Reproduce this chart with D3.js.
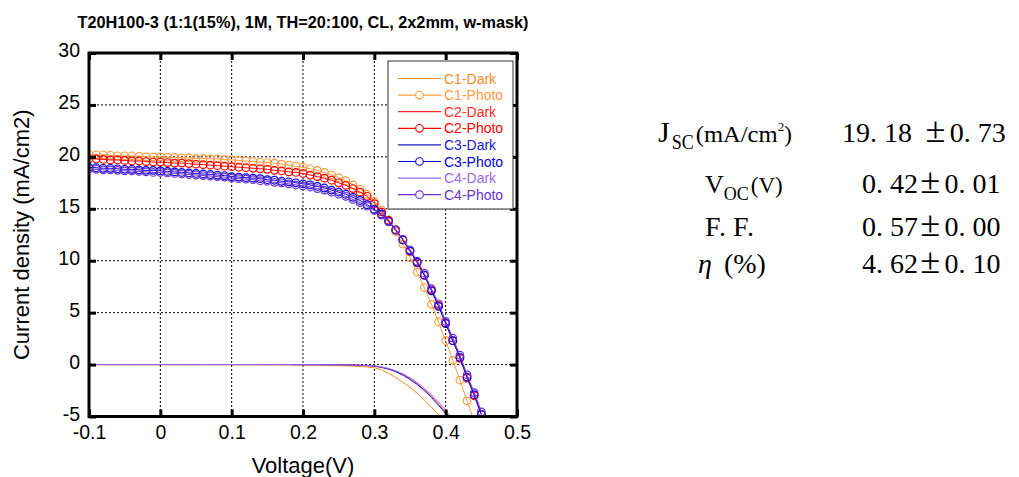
<!DOCTYPE html>
<html><head><meta charset="utf-8">
<script src="https://cdn.jsdelivr.net/npm/d3@7"></script>
<style>
html,body{margin:0;padding:0;background:#fff;}
svg{display:block;}
</style></head><body>
<svg id="chart" width="1019" height="477"></svg>
<script>
// ---- data ----
const chartTitle = "T20H100-3 (1:1(15%), 1M, TH=20:100, CL, 2x2mm, w-mask)";
const xLabel = "Voltage(V)";
const yLabel = "Current density (mA/cm2)";
const xTicks = [-0.1, 0, 0.1, 0.2, 0.3, 0.4, 0.5];
const yTicks = [-5, 0, 5, 10, 15, 20, 25, 30];

// illuminated sweeps: voltage (V)
const photoV = [-0.10,-0.09,-0.08,-0.07,-0.06,-0.05,-0.04,-0.03,-0.02,-0.01,
  0.00,0.01,0.02,0.03,0.04,0.05,0.06,0.07,0.08,0.09,
  0.10,0.11,0.12,0.13,0.14,0.15,0.16,0.17,0.18,0.19,
  0.20,0.21,0.22,0.23,0.24,0.25,0.26,0.27,0.28,0.29,
  0.30,0.31,0.32,0.33,0.34,0.35,0.36,0.37,0.38,0.39,
  0.40,0.41,0.42,0.43,0.44,0.45];
// current density (mA/cm2)
const c1Photo = [20.2,20.2,20.2,20.15,20.1,20.1,20.1,20.05,20.0,20.0,
  20.0,19.95,19.95,19.9,19.9,19.85,19.85,19.8,19.8,19.75,
  19.7,19.65,19.6,19.55,19.5,19.45,19.4,19.3,19.2,19.1,
  19.0,18.85,18.7,18.5,18.25,18.0,17.7,17.3,16.9,16.4,
  15.7,14.9,13.9,12.8,11.6,10.3,8.9,7.4,5.8,4.1,
  2.3,0.4,-1.5,-3.5,-5.5];
const c2Photo = [19.8,19.8,19.75,19.7,19.7,19.65,19.6,19.6,19.55,19.5,
  19.5,19.45,19.4,19.4,19.35,19.3,19.25,19.2,19.15,19.1,
  19.05,19.0,18.95,18.9,18.85,18.8,18.7,18.65,18.55,18.5,
  18.4,18.25,18.1,17.95,17.75,17.5,17.25,16.95,16.6,16.2,
  15.5,14.7,13.9,13.0,12.0,10.9,9.8,8.6,7.2,5.7,
  4.0,2.3,0.6,-1.3,-3.0,-4.8];
const c3Photo = [19.0,18.95,18.9,18.9,18.85,18.8,18.8,18.75,18.7,18.7,
  18.65,18.6,18.55,18.5,18.45,18.4,18.35,18.3,18.25,18.2,
  18.1,18.05,18.0,17.95,17.9,17.8,17.75,17.65,17.6,17.5,
  17.4,17.3,17.15,17.0,16.8,16.6,16.4,16.1,15.8,15.4,
  14.95,14.5,13.8,12.95,12.0,10.95,9.85,8.6,7.1,5.6,
  3.95,2.3,0.7,-1.2,-2.9,-4.8];
const c4Photo = [18.85,18.8,18.75,18.75,18.7,18.65,18.65,18.6,18.55,18.5,
  18.5,18.45,18.4,18.35,18.3,18.25,18.2,18.15,18.1,18.05,
  17.95,17.9,17.85,17.8,17.7,17.65,17.55,17.5,17.4,17.3,
  17.2,17.1,16.95,16.8,16.6,16.4,16.2,15.9,15.6,15.25,
  14.85,14.4,13.75,12.95,12.05,11.05,9.95,8.8,7.3,5.85,
  4.15,2.55,0.9,-1.0,-2.7,-4.55];

// dark sweeps
const darkV = [-0.09,-0.08,-0.07,-0.06,-0.05,-0.04,-0.03,-0.02,-0.01,
  0.00,0.01,0.02,0.03,0.04,0.05,0.06,0.07,0.08,0.09,
  0.10,0.11,0.12,0.13,0.14,0.15,0.16,0.17,0.18,0.19,
  0.20,0.21,0.22,0.23,0.24,0.25,0.26,0.27,0.28,0.29,
  0.30,0.31,0.32,0.33,0.34,0.35,0.36,0.37,0.38,0.39,
  0.40,0.41,0.42];
const c1Dark = [0,0,0,0,0,0,0,0,0,
  0,0,0,0,0,0,0,0,0,0,
  -0.01,-0.01,-0.01,-0.01,-0.02,-0.02,-0.02,-0.03,-0.03,-0.04,
  -0.05,-0.05,-0.06,-0.07,-0.08,-0.1,-0.12,-0.15,-0.19,-0.24,
  -0.3,-0.5,-0.85,-1.25,-1.7,-2.2,-2.75,-3.4,-4.1,-4.85,
  -5.6];
const c2Dark = [0,0,0,0,0,0,0,0,0,
  0,0,0,0,0,0,0,0,0,0,
  0,0,0,0,0,0,0,0,0,-0.01,
  -0.01,-0.01,-0.01,-0.01,-0.02,-0.02,-0.03,-0.05,-0.07,-0.1,
  -0.15,-0.26,-0.42,-0.66,-0.98,-1.38,-1.86,-2.43,-3.08,-3.82,
  -4.6,-5.4];
const c3Dark = [0,0,0,0,0,0,0,0,0,
  0,0,0,0,0,0,0,0,0,0,
  0,0,0,0,0,0,0,0,0,-0.01,
  -0.01,-0.01,-0.01,-0.01,-0.02,-0.02,-0.03,-0.05,-0.07,-0.1,
  -0.15,-0.27,-0.44,-0.69,-1.02,-1.43,-1.92,-2.5,-3.17,-3.92,
  -4.72,-5.55];
const c4Dark = [0,0,0,0,0,0,0,0,0,
  0,0,0,0,0,0,0,0,0,0,
  0,0,0,0,0,0,0,0,0,0,
  -0.01,-0.01,-0.01,-0.01,-0.01,-0.02,-0.03,-0.04,-0.06,-0.08,
  -0.12,-0.22,-0.37,-0.59,-0.89,-1.27,-1.73,-2.28,-2.91,-3.62,
  -4.4,-5.22,-6.1];

const seriesNames = ["C1-Dark","C1-Photo","C2-Dark","C2-Photo","C3-Dark","C3-Photo","C4-Dark","C4-Photo"];
const seriesColors = ["#ff8a1f","#ff9a3c","#ff2a2a","#ff0000","#2020cc","#0000dd","#9a66ee","#6a2fd0"];

// summary of the device parameters
const statValues = ["19.18 ±0.73", "0.42±0.01", "0.57±0.00", "4.62±0.10"];

// ---- layout ----
const svg = d3.select("#chart");
svg.append("rect").attr("width", 1019).attr("height", 477).attr("fill", "#fff");

const plot = {left: 89, right: 517, top: 53, bottom: 416.5};
const x = d3.scaleLinear().domain([-0.1, 0.5]).range([plot.left, plot.right]);
const y = d3.scaleLinear().domain([-5, 30]).range([plot.bottom, plot.top]);

const sans = "'Liberation Sans', Arial, sans-serif";
const serif = "'Liberation Serif', 'Times New Roman', serif";

svg.append("text")
  .attr("x", 303).attr("y", 28)
  .attr("text-anchor", "middle")
  .attr("font-family", sans).attr("font-weight", "bold").attr("font-size", 16.3)
  .text(chartTitle);

// grid
const grid = svg.append("g").attr("stroke", "#000").attr("stroke-width", 1)
  .attr("stroke-dasharray", "2,2");
grid.selectAll("line.v").data(xTicks.slice(1, -1)).join("line")
  .attr("x1", d => x(d)).attr("x2", d => x(d))
  .attr("y1", plot.top).attr("y2", plot.bottom);
grid.selectAll("line.h").data(yTicks.slice(1, -1)).join("line")
  .attr("x1", plot.left).attr("x2", plot.right)
  .attr("y1", d => y(d)).attr("y2", d => y(d));

// series
svg.append("clipPath").attr("id", "plotclip").append("rect")
  .attr("x", plot.left).attr("y", plot.top)
  .attr("width", plot.right - plot.left).attr("height", plot.bottom - plot.top);

const series = [
  {v: darkV, j: c1Dark, marker: false},
  {v: photoV, j: c1Photo, marker: true},
  {v: darkV, j: c2Dark, marker: false},
  {v: photoV, j: c2Photo, marker: true},
  {v: darkV, j: c3Dark, marker: false},
  {v: photoV, j: c3Photo, marker: true},
  {v: darkV, j: c4Dark, marker: false},
  {v: photoV, j: c4Photo, marker: true}
].map((s, i) => ({
  name: seriesNames[i], color: seriesColors[i], marker: s.marker,
  pts: s.j.map((jv, k) => [s.v[k], jv])
}));

const line = d3.line().x(d => x(d[0])).y(d => y(d[1]));
const gSeries = svg.append("g").attr("clip-path", "url(#plotclip)");
series.forEach(s => {
  const g = gSeries.append("g");
  g.append("path").attr("d", line(s.pts)).attr("fill", "none")
    .attr("stroke", s.color).attr("stroke-width", 1);
  if (s.marker) {
    g.selectAll("circle").data(s.pts).join("circle")
      .attr("cx", d => x(d[0])).attr("cy", d => y(d[1])).attr("r", 3.8)
      .attr("fill", "none").attr("stroke", s.color).attr("stroke-width", 1.2);
  }
});

// axes (ticks point inward on all four sides)
const fmt = d => String(d);
function styleAxis(g) {
  g.select(".domain").remove();
  g.selectAll(".tick line").attr("stroke", "#000").attr("stroke-width", 3);
  g.selectAll(".tick text").attr("font-family", sans).attr("font-size", 19.5).attr("fill", "#000");
}
svg.append("g").attr("transform", `translate(0,${plot.bottom})`)
  .call(d3.axisBottom(x).tickValues(xTicks).tickSize(-7).tickPadding(9).tickFormat(fmt))
  .call(styleAxis);
svg.append("g").attr("transform", `translate(0,${plot.top})`)
  .call(d3.axisTop(x).tickValues(xTicks).tickSize(-7).tickFormat(""))
  .call(styleAxis);
svg.append("g").attr("transform", `translate(${plot.left},0)`)
  .call(d3.axisLeft(y).tickValues(yTicks).tickSize(-7).tickPadding(9).tickFormat(fmt))
  .call(styleAxis)
  .call(g => g.selectAll(".tick text").attr("dy", "0.2em"));
svg.append("g").attr("transform", `translate(${plot.right},0)`)
  .call(d3.axisRight(y).tickValues(yTicks).tickSize(-7).tickFormat(""))
  .call(styleAxis);

svg.append("rect")
  .attr("x", plot.left).attr("y", plot.top)
  .attr("width", plot.right - plot.left).attr("height", plot.bottom - plot.top)
  .attr("fill", "none").attr("stroke", "#000").attr("stroke-width", 3);

// axis titles
svg.append("text")
  .attr("x", (plot.left + plot.right) / 2).attr("y", 473)
  .attr("text-anchor", "middle").attr("font-family", sans).attr("font-size", 22)
  .text(xLabel);
svg.append("text")
  .attr("transform", `translate(29,${(plot.top + plot.bottom) / 2}) rotate(-90)`)
  .attr("text-anchor", "middle").attr("font-family", sans).attr("font-size", 22)
  .text(yLabel);

// legend
const leg = svg.append("g");
leg.append("rect").attr("x", 388).attr("y", 61).attr("width", 125).attr("height", 148)
  .attr("fill", "#fff").attr("stroke", "#333").attr("stroke-width", 1);
series.forEach((s, i) => {
  const cy = 78.5 + i * 16.6;
  leg.append("line").attr("x1", 398).attr("x2", 441).attr("y1", cy).attr("y2", cy)
    .attr("stroke", s.color).attr("stroke-width", 1.2);
  if (s.marker) {
    leg.append("circle").attr("cx", 419.5).attr("cy", cy).attr("r", 3.8)
      .attr("fill", "#fff").attr("stroke", s.color).attr("stroke-width", 1.1);
  }
  leg.append("text").attr("x", 444).attr("y", cy + 5)
    .attr("font-family", sans).attr("font-size", 14).attr("fill", s.color)
    .text(s.name);
});

// parameter table: each character sits in a half-width cell, ± in a wide one
const em = 28;
function cellText(sel, str, x0) {
  let cx = x0;
  for (const ch of str) {
    if (ch === "±") {
      sel.append("tspan").attr("x", cx + 0.08 * em).attr("font-size", em * 1.3).text(ch);
      cx += 0.95 * em;
    } else if (ch === " ") {
      cx += 0.4 * em;
    } else {
      sel.append("tspan").attr("x", cx).text(ch);
      cx += em / 2;
    }
  }
}
const rowY = [142, 193, 236, 273];
const valueX = [842, 862, 862, 862];
const tbl = svg.append("g").attr("font-family", serif).attr("fill", "#000");
statValues.forEach((t, i) => {
  const tx = tbl.append("text").attr("y", rowY[i]).attr("font-size", em);
  cellText(tx, t, valueX[i]);
});

// row labels
const jsc = tbl.append("text").attr("x", 658).attr("y", rowY[0]).attr("font-size", 30);
jsc.append("tspan").text("J");
jsc.append("tspan").attr("font-size", 20).attr("dy", 7).attr("dx", 2)
  .attr("textLength", 22).attr("lengthAdjust", "spacingAndGlyphs").text("SC");
jsc.append("tspan").attr("font-size", 23).attr("dy", -7).attr("dx", 2)
  .attr("textLength", 82).attr("lengthAdjust", "spacingAndGlyphs").text("(mA/cm");
jsc.append("tspan").attr("font-size", 13).attr("dy", -11).text("2");
jsc.append("tspan").attr("font-size", 23).attr("dy", 11).text(")");

const voc = tbl.append("text").attr("x", 705).attr("y", rowY[1]).attr("font-size", 26);
voc.append("tspan").text("V");
voc.append("tspan").attr("font-size", 18).attr("dy", 7).text("OC");
voc.append("tspan").attr("font-size", 23).attr("dy", -7).attr("dx", 2).text("(V)");

const ff = tbl.append("text").attr("y", rowY[2]).attr("font-size", em);
cellText(ff, "F.F.", 705);

const eta = tbl.append("text").attr("x", 698).attr("y", rowY[3]).attr("font-size", em);
eta.append("tspan").attr("font-style", "italic").text("η");
eta.append("tspan").attr("dx", 12).text("(%)");
</script>
</body></html>
